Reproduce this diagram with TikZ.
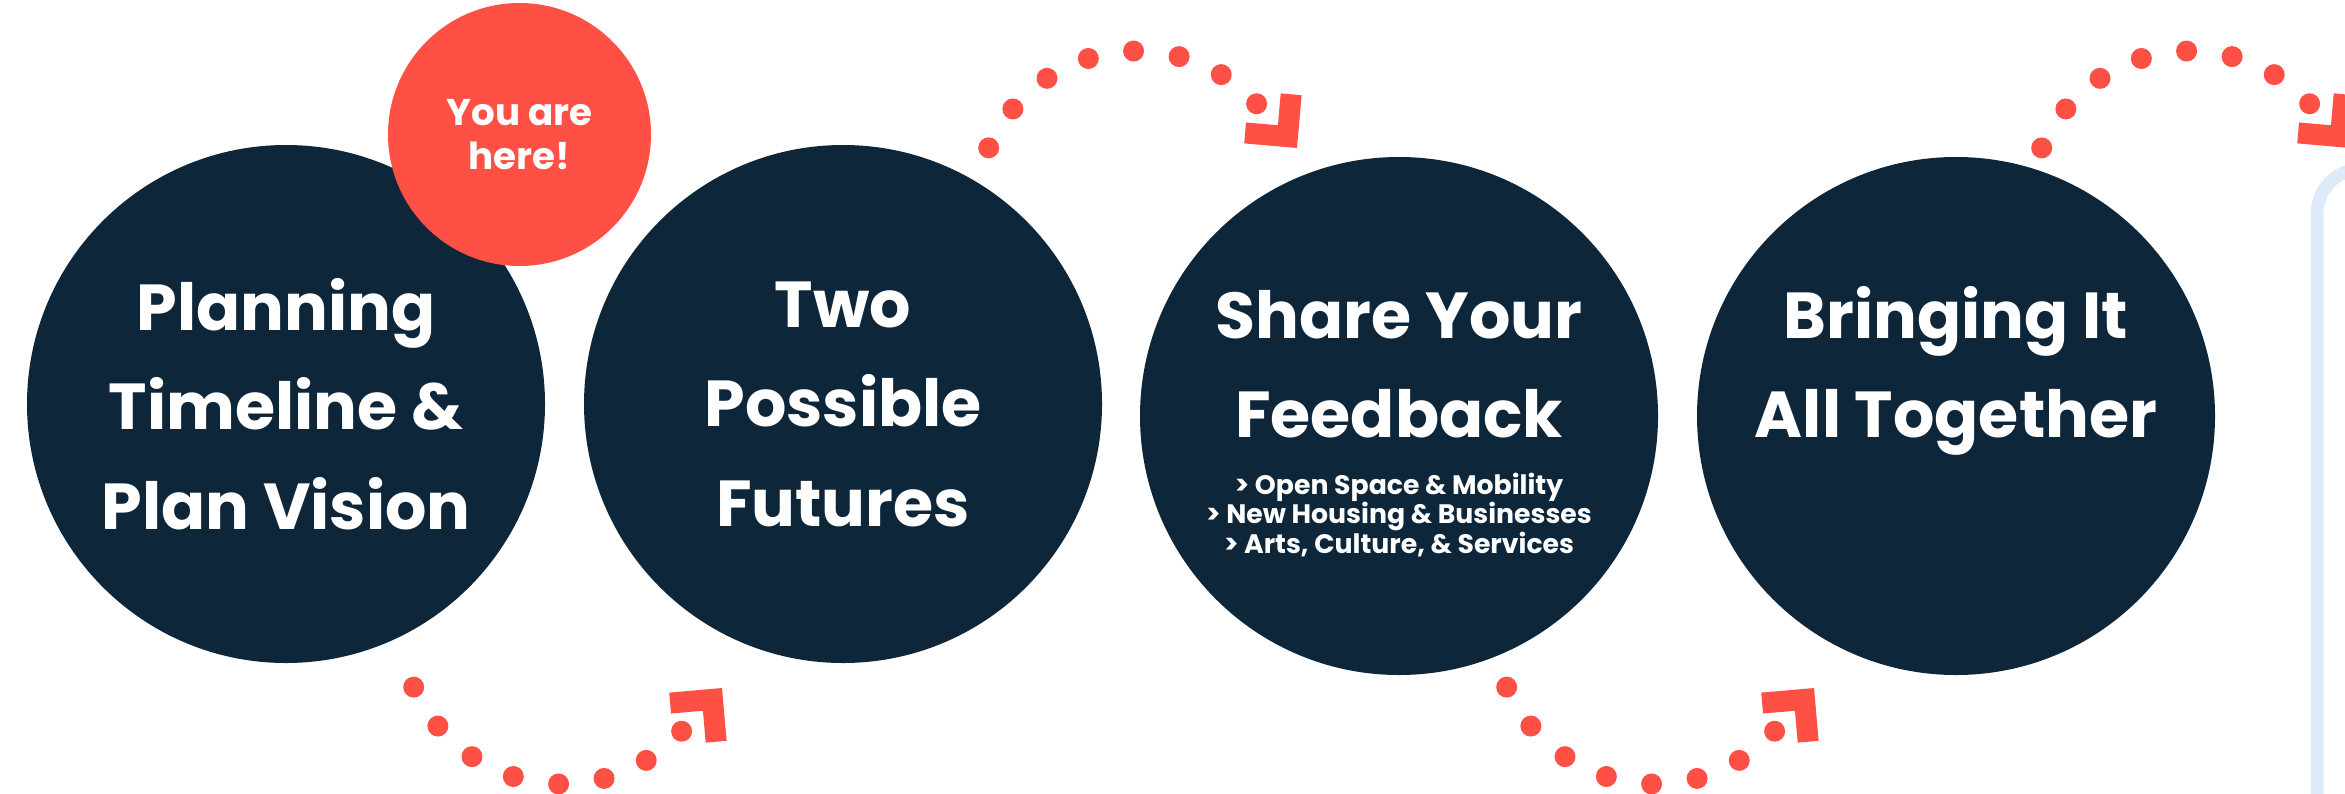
\documentclass[tikz,border=0pt]{standalone}
\usepackage{fontspec}
\setmainfont{Poppins}

\definecolor{navy}{RGB}{14,38,58}
\definecolor{coral}{RGB}{255,80,70}
\definecolor{paleblue}{RGB}{221,235,248}

\tikzset{
    stage node/.style={circle,fill=navy,minimum size=5.18cm,inner sep=0},
    here node/.style={circle,fill=coral,minimum size=2.63cm,inner sep=0,text=white,align=center,font=\bfseries\fontsize{10.6}{12.5}\selectfont},
    stage text/.style={text=white,align=center,font=\bfseries\fontsize{18.5}{28.3}\selectfont},
    topic text/.style={text=white,align=center,font=\bfseries\fontsize{7.6}{8.4}\selectfont},
    dot trail/.style={draw=coral,line width=0.21cm,line cap=round,dash pattern=on 0pt off 0.46cm},
    side frame/.style={draw=paleblue,line width=0.13cm,rounded corners=0.45cm},
    chevron/.pic={\fill[coral] (0,0) -- (-0.53,0) -- (-0.53,-0.21) -- (-0.21,-0.21) -- (-0.21,-0.53) -- (0,-0.53) -- cycle;}
    }

\begin{document}
\begin{tikzpicture}
                \useasboundingbox (0,0) rectangle (23.45,7.93);
                \draw[side frame] (23.17,-1) rectangle (26,6.24);

                % the four stages
                \node(plan)[stage node] at (2.86,3.89) {};
                \node(futures)[stage node] at (8.43,3.89) {};
                \node(feedback)[stage node] at (13.99,3.77) {};
                \node(together)[stage node] at (19.56,3.77) {};
                \node(here)[here node] at (5.195,6.585) {You are\\here!};

                \node(plantext)[stage text] at (plan.center) {Planning\\Timeline \&\\Plan Vision};
                \node(futurestext)[stage text] at (futures.center) {Two\\Possible\\Futures};
                \node(feedbacktext)[stage text] at ([yshift=0.52cm]feedback.center) {Share Your\\Feedback};
                \node(topics)[topic text] at ([yshift=-0.99cm]feedback.center) {> Open Space \& Mobility\\> New Housing \& Businesses\\> Arts, Culture, \& Services};
                \node(togethertext)[stage text] at ([yshift=0.45cm]together.center) {Bringing It\\All Together};

                % dotted arcs between the stages
                \coordinate(c1) at (5.62,1.71);
                \coordinate(c2) at (11.37,5.80);
                \coordinate(c3) at (16.55,1.71);
                \coordinate(c4) at (21.90,5.80);
                \draw[dot trail] ([shift={(203.7:1.62)}]c1) arc[start angle=203.7,end angle=317.8,radius=1.62];
                \draw[dot trail] ([shift={(156.3:1.62)}]c2) arc[start angle=156.3,end angle=42.2,radius=1.62];
                \draw[dot trail] ([shift={(203.7:1.62)}]c3) arc[start angle=203.7,end angle=317.8,radius=1.62];
                \draw[dot trail] ([shift={(156.3:1.62)}]c4) arc[start angle=156.3,end angle=42.2,radius=1.62];
                \pic[rotate=5] at (7.22,1.05) {chevron};
                \pic[rotate=-5,yscale=-1] at (12.97,6.45) {chevron};
                \pic[rotate=5] at (18.14,1.05) {chevron};
                \pic[rotate=-5,yscale=-1] at (23.50,6.45) {chevron};
            \end{tikzpicture}
\end{document}
